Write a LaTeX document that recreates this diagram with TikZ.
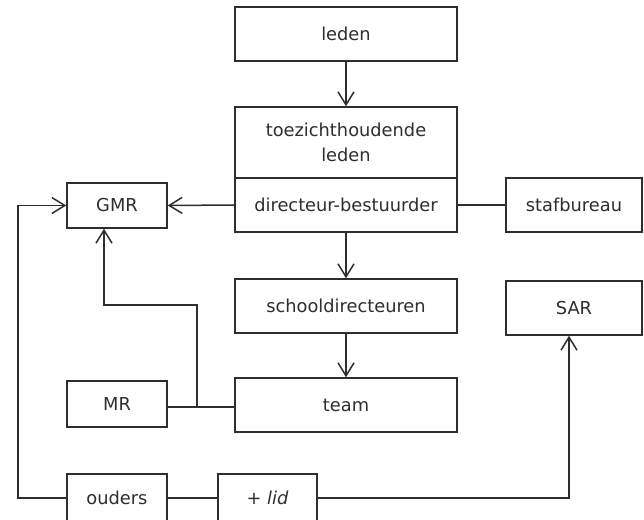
\documentclass[tikz,border=0pt]{standalone}
\usepackage{fontspec}
\setmainfont{DejaVu Sans}
\usetikzlibrary{arrows.meta}
\definecolor{ink}{HTML}{2E2E2E}
\tikzset{
  box/.style={draw=ink, line width=1.5pt, fill=white, text=ink, font=\fontsize{17.8}{25}\selectfont, align=center, inner sep=0pt},
  arr/.style={draw=ink, line width=1.5pt, -{Straight Barb[length=13pt,width=16pt,line width=1.5pt]}},
  ln/.style={draw=ink, line width=1.5pt}
}
\begin{document}
\begin{tikzpicture}[x=1pt,y=-1pt]
\useasboundingbox (0,0) rectangle (644,519);
\clip (0,0) rectangle (644,519);
\node[box, minimum width=222pt, minimum height=54pt] (leden) at (346,34) {leden};
\node[box, minimum width=222pt, minimum height=71pt] (toez) at (346,142.5) {toezichthoudende\\leden};
\node[box, minimum width=222pt, minimum height=54pt] (dir) at (346,205) {directeur-bestuurder};
\node[box, minimum width=222pt, minimum height=54pt] (school) at (346,306) {schooldirecteuren};
\node[box, minimum width=222pt, minimum height=54pt] (team) at (346,405) {team};
\node[box, minimum width=100pt, minimum height=45pt] (gmr) at (117,205.5) {GMR};
\node[box, minimum width=136pt, minimum height=54pt] (staf) at (574,205) {stafbureau};
\node[box, minimum width=136pt, minimum height=54pt] (sar) at (574,308) {SAR};
\node[box, minimum width=100pt, minimum height=46pt] (mr) at (117,404) {MR};
\node[box, minimum width=100pt, minimum height=48pt] (ouders) at (117,498) {ouders};
\node[box, minimum width=99pt, minimum height=48pt] (lid) at (267.5,498) {+ \textit{lid}};
\coordinate (j) at (197,407);
\coordinate (k) at (104,305);
\coordinate (l) at (18,498);
\coordinate (m) at (569,498);
\draw[arr] (leden.south) -- (toez.north);
\draw[arr] (dir.south) -- (school.north);
\draw[arr] (school.south) -- (team.north);
\draw[arr] (dir.west) -- (gmr.east);
\draw[ln] (dir.east) -- (staf.west);
\draw[ln] (mr.east |- j) -- (team.west |- j);
\draw[arr] (j) |- (k) -- (k |- gmr.south);
\draw[arr] (ouders.west) -- (l) |- (gmr.west);
\draw[ln] (ouders.east) -- (lid.west);
\draw[arr] (lid.east) -- (m) -- (m |- sar.south);
\end{tikzpicture}
\end{document}
